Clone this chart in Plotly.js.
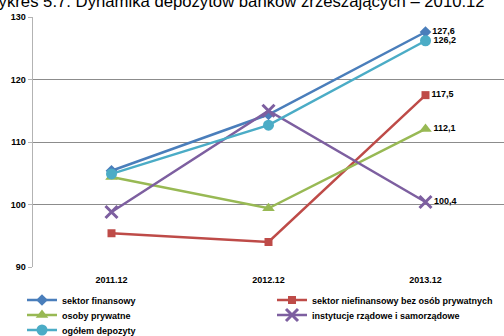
<!DOCTYPE html>
<html><head><meta charset="utf-8">
<script src="https://cdn.plot.ly/plotly-3.0.1.min.js"></script>
<style>html,body{margin:0;padding:0;background:#fff}#chart{width:504px;height:336px}</style>
</head><body><div id="chart"></div>
<script>
const categories = ["2011.12", "2012.12", "2013.12"];
const seriesNames = ["sektor finansowy", "sektor niefinansowy bez osób prywatnych", "osoby prywatne", "instytucje rządowe i samorządowe", "ogółem depozyty"];
const sektorFinansowy = [105.4, 114.4, 127.6];
const sektorNiefinansowy = [95.4, 94.0, 117.5];
const osobyPrywatne = [104.4, 99.4, 112.1];
const instytucje = [98.8, 115.0, 100.4];
const ogolem = [104.9, 112.7, 126.2];
const lastLabels = ["127,6", "117,5", "112,1", "100,4", "126,2"];
const yTicks = [90, 100, 110, 120, 130];
const titleText = "Wykres 5.7. Dynamika depozytów banków zrzeszających – 2010.12";

const values = [sektorFinansowy, sektorNiefinansowy, osobyPrywatne, instytucje, ogolem];
const colors = ["#4A7EBB", "#BE4B48", "#98B954", "#7D5FA0", "#4BACC6"];
const symbols = ["diamond", "square", "triangle-up", "x-thin-open", "circle"];
const sizes = [9, 8, 11, 12, 11];
const legendIds = ["legend", "legend2", "legend3", "legend4", "legend5"];
const legendX = [22, 272, 22, 272, 22];
const legendY = [300, 300, 315, 315, 330];

const traces = values.map((v, i) => ({
  x: categories, y: v, name: seriesNames[i], type: "scatter", mode: "lines+markers+text",
  legend: legendIds[i],
  line: {color: colors[i], width: 2.5},
  marker: {symbol: symbols[i], size: sizes[i], color: colors[i], line: {color: colors[i], width: i === 3 ? 3 : 0}},
  text: v.map((_, j) => j === v.length - 1 ? lastLabels[i] : ""),
  textposition: "middle right",
  textfont: {family: "Arial", size: 9, color: "#000", weight: "bold"},
  cliponaxis: false, hoverinfo: "skip"
}));

const layout = {
  width: 504, height: 336,
  margin: {l: 33, r: 0, t: 17, b: 69, autoexpand: false},
  paper_bgcolor: "#fff", plot_bgcolor: "#fff",
  showlegend: true,
  font: {family: "Arial", size: 9, color: "#000"},
  xaxis: {type: "category", range: [-0.5, 2.5], showgrid: false, zeroline: false,
    showline: false, ticks: "", ticklabelstandoff: 6, tickfont: {family: "Arial", size: 9, weight: "bold"}},
  yaxis: {range: [90, 130], tickvals: yTicks, ticktext: yTicks.map(String),
    showgrid: true, gridcolor: "#8C8C8C", gridwidth: 1, zeroline: false,
    showline: true, linecolor: "#B3B3B3", linewidth: 1.5, ticks: "outside", ticklen: 4, tickcolor: "#B3B3B3",
    tickfont: {family: "Arial", size: 9, weight: "bold"}},
  annotations: [{text: titleText, xref: "paper", yref: "paper", x: 0.964, xanchor: "right",
    y: 1.062, yanchor: "middle", showarrow: false, font: {family: "Arial", size: 16.7, color: "#000"}}]
};
legendIds.forEach((id, i) => {
  layout[id] = {orientation: "v", xref: "container", yref: "container", x: legendX[i] / 504, xanchor: "left",
    y: 1 - legendY[i] / 336, yanchor: "middle", itemwidth: 30, bgcolor: "rgba(0,0,0,0)",
    font: {family: "Arial", size: 9, color: "#000", weight: "bold"}};
});
Plotly.newPlot("chart", traces, layout, {staticPlot: true});
</script></body></html>
